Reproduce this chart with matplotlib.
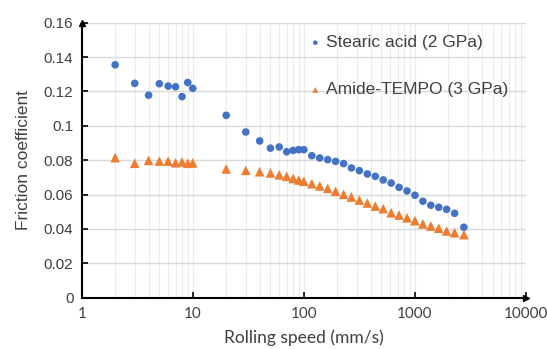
import matplotlib
matplotlib.use("Agg")
import matplotlib.pyplot as plt
from matplotlib.ticker import FixedLocator, NullFormatter

# rolling speed (mm/s)
speed = [2, 3, 4, 5, 6, 7, 8, 9, 10, 20, 30, 40, 50, 60, 70, 80, 90,
         100, 118, 139, 164, 193, 228, 268, 316, 373, 440, 518, 611,
         720, 849, 1000, 1179, 1390, 1638, 1931, 2276, 2760]

# friction coefficient, stearic acid at 2 GPa
stearic = [0.1355, 0.1247, 0.1178, 0.1245, 0.1231, 0.1227, 0.1170, 0.1252,
           0.1218, 0.1061, 0.0964, 0.0912, 0.0870, 0.0877, 0.0849, 0.0857,
           0.0861, 0.0861, 0.0826, 0.0813, 0.0803, 0.0793, 0.0780, 0.0755,
           0.0739, 0.0720, 0.0706, 0.0685, 0.0667, 0.0642, 0.0621, 0.0596,
           0.0561, 0.0538, 0.0526, 0.0514, 0.0491, 0.0410]

# friction coefficient, Amide-TEMPO at 3 GPa
amide = [0.0815, 0.0782, 0.0799, 0.0795, 0.0794, 0.0785, 0.0790, 0.0782,
         0.0784, 0.0749, 0.0741, 0.0733, 0.0726, 0.0715, 0.0706, 0.0694,
         0.0685, 0.0677, 0.0663, 0.0650, 0.0636, 0.0619, 0.0601, 0.0586,
         0.0568, 0.0551, 0.0533, 0.0518, 0.0494, 0.0481, 0.0465, 0.0448,
         0.0429, 0.0417, 0.0404, 0.0388, 0.0378, 0.0367]

yticks = [0, 0.02, 0.04, 0.06, 0.08, 0.1, 0.12, 0.14, 0.16]
ytick_labels = ["0", "0.02", "0.04", "0.06", "0.08", "0.1", "0.12", "0.14", "0.16"]
xticks = [1, 10, 100, 1000, 10000]
xtick_labels = ["1", "10", "100", "1000", "10000"]

blue = "#4472C4"
orange = "#ED7D31"
text_grey = "#404040"

fig = plt.figure(figsize=(5.47, 3.49), dpi=100)
ax = fig.add_axes([0.1494, 0.147, 0.8122, 0.788])

ax.scatter(speed, stearic, s=30, color=blue, edgecolors="none", zorder=3,
           label="Stearic acid (2 GPa)")
ax.scatter(speed, amide, s=48, marker="^", color=orange, edgecolors="none",
           zorder=3, label="Amide-TEMPO (3 GPa)")

ax.set_xscale("log")
ax.set_xlim(1, 10000)
ax.set_ylim(0, 0.16)

ax.set_xticks(xticks)
ax.set_xticklabels(xtick_labels, family="Lato", fontsize=11, color=text_grey)
ax.xaxis.set_minor_locator(FixedLocator(
    [m * 10 ** e for e in range(4) for m in range(2, 10)]))
ax.xaxis.set_minor_formatter(NullFormatter())
ax.set_yticks(yticks)
ax.set_yticklabels(ytick_labels, family="Liberation Sans", fontsize=11,
                   color=text_grey)

ax.tick_params(axis="both", which="major", direction="in", length=4,
               width=1.2, color="black", pad=6)
ax.tick_params(axis="x", which="minor", length=0)
ax.tick_params(axis="x", which="major", pad=7)

ax.grid(True, axis="y", which="major", color="#d9d9d9", linewidth=1)
ax.grid(True, axis="x", which="both", color="#ececec", linewidth=0.8)
ax.set_axisbelow(True)

for side in ("top", "right"):
    ax.spines[side].set_visible(False)
for side in ("left", "bottom"):
    ax.spines[side].set_linewidth(1.5)

# arrow heads on the axis ends
ax.plot(1, 0, marker=">", color="black", markersize=5,
        transform=ax.transAxes, clip_on=False)
ax.plot(0, 1, marker="^", color="black", markersize=5,
        transform=ax.transAxes, clip_on=False)

ax.set_xlabel("Rolling speed (mm/s)", family="Lato", fontsize=12.5,
              color=text_grey, labelpad=6)
ax.set_ylabel("Friction coefficient", family="Liberation Sans", fontsize=12.5,
              color=text_grey, labelpad=9)

leg = ax.legend(loc="upper left", bbox_to_anchor=(0.514, 0.955), frameon=False,
                prop={"family": "Liberation Sans", "size": 12.5},
                handlelength=0.6, handletextpad=0.3, labelspacing=1.85,
                markerscale=0.6, borderaxespad=0, borderpad=0)
for t in leg.get_texts():
    t.set_color(text_grey)

fig.savefig("out.png", dpi=100)
